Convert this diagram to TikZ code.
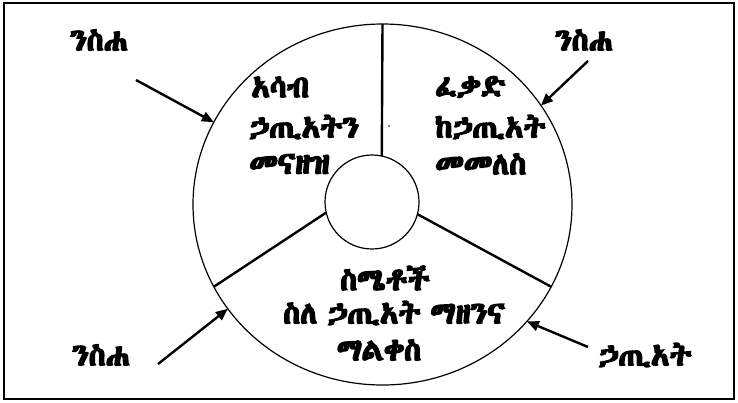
\documentclass[tikz,border=0pt]{standalone}
\usepackage{fontspec}
\usetikzlibrary{shapes.geometric,arrows.meta}
\IfFontExistsTF{Abyssinica SIL}{\newfontfamily\eth[FakeBold=5]{Abyssinica SIL}}{%
  \IfFontExistsTF{FreeSerif.otf}{\newfontfamily\eth[FakeBold=5]{FreeSerif.otf}}{\newfontfamily\eth{DejaVu Sans}}}
\tikzset{
  lbl/.style={font=\eth\fontsize{30.5}{34}\selectfont, inner sep=0pt},
  spoke/.style={line width=2.4pt},
  arr/.style={line width=2.4pt, -{Triangle[length=12pt,width=10pt]}},
}
\begin{document}
\begin{tikzpicture}[x=1pt,y=-1pt]
\useasboundingbox (0,0) rectangle (738,402);
\draw[line width=2pt] (4,3) rectangle (734,399);
\node[ellipse, draw, line width=1.2pt, minimum width=379pt, minimum height=361pt, inner sep=0pt, outer sep=0pt] (big) at (382.5,204.5) {};
\node[circle, draw, line width=1.2pt, minimum size=94pt, inner sep=0pt, outer sep=0pt] (inner) at (372,202) {};
\draw[spoke] (big.north) -- (inner.78);
\draw[spoke] (inner.193) -- (big.206);
\draw[spoke] (inner.345) -- (big.334);
\fill (389,126) circle (0.9pt);
% labels
\node[lbl] (tl) at (99,40) {ንስሐ};
\node[lbl] (tr) at (584,40) {ንስሐ};
\node[lbl] (bl) at (101,355) {ንስሐ};
\node[lbl] (br) at (645,355) {ኃጢአት};
\node[lbl, anchor=west] (l1) at (251,87) {አሳብ};
\node[lbl, anchor=west] (l2) at (249,127) {ኃጢአትን};
\node[lbl, anchor=west] (l3) at (249,164) {መናዘዝ};
\node[lbl, anchor=west] (r1) at (435,87) {ፈቃድ};
\node[lbl, anchor=west] (r2) at (435,127) {ከኃጢአት};
\node[lbl, anchor=west] (r3) at (435,164) {መመለስ};
\node[lbl] (b1) at (385,278) {ስሜቶች};
\node[lbl] (b2) at (394,313) {ስለ\hspace{10pt}ኃጢአት\hspace{10pt}ማዘንና};
\node[lbl] (b3) at (379,350) {ማልቀስ};
% arrows
\coordinate (s1) at (136,80);
\coordinate (s2) at (588,61);
\coordinate (s3) at (158,364);
\coordinate (s4) at (588,347);
\draw[arr] (s1) -- (big.154);
\draw[arr] (s2) -- (big.32);
\draw[arr] (s3) -- (big.214);
\draw[arr] (s4) -- (big.321);
\end{tikzpicture}
\end{document}
